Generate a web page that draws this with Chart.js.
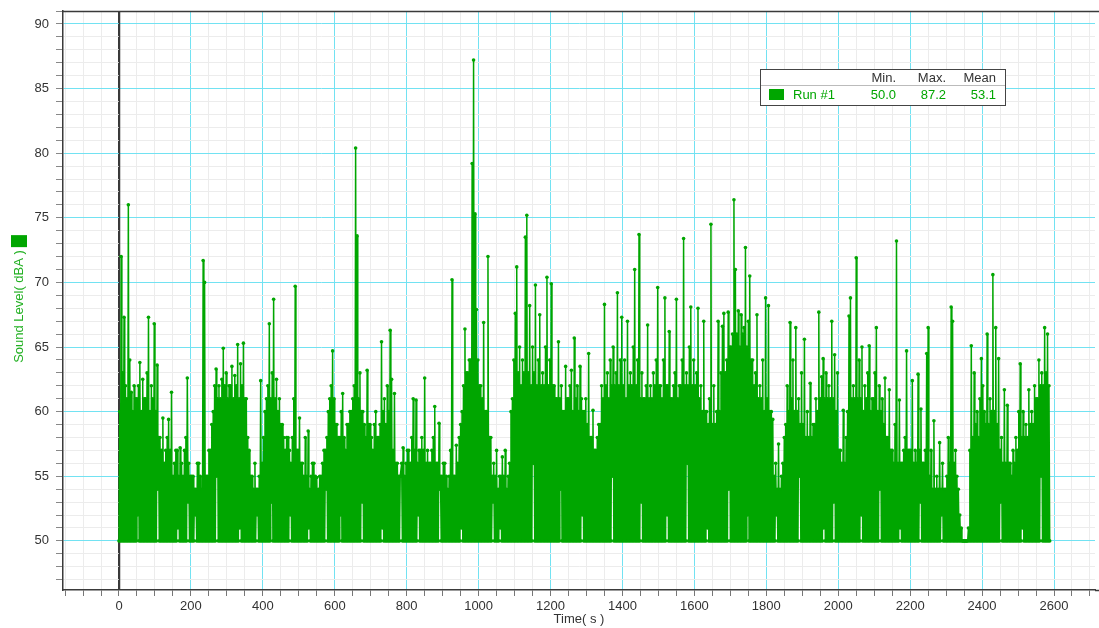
<!DOCTYPE html>
<html>
<head>
<meta charset="utf-8">
<title>Sound Level</title>
<script src="https://cdn.jsdelivr.net/npm/chart.js@4.4.0/dist/chart.umd.min.js"></script>
<style>
  html, body { margin: 0; padding: 0; background: #fff; }
  #wrap { width: 1099px; height: 628px; position: relative; }
</style>
</head>
<body>
<div id="wrap"><canvas id="levelChart"></canvas></div>
<script>
// readings every 2 s, one array per 200 s stretch
const sampleStep = 2;
const levels0000 = [
  50,60, 50,72.0, 50,63, 50,67.3, 50,62, 50,61, 50,76.0, 50,64, 50,61.5, 50,60,
  50,62, 50,61, 50,61, 52,62, 50,63.8, 50,60, 50,62.5, 50,61, 50,61, 50,63,
  50,67.3, 50,60, 50,62, 50,61, 50,66.8, 50,60, 50,63.6, 54,58, 50,58, 50,57,
  50,59.5, 50,56, 50,57, 50,58, 50,59.4, 50,57, 50,61.5, 50,55, 50,56, 50,57,
  50,57, 51,55, 50,57.2, 50,56, 50,55, 50,57, 50,58, 50,62.6, 53,56, 50,55];
const levels0200 = [
  50,55, 50,55, 50,54, 52,54, 50,56, 50,56, 50,55, 50,54, 50,71.7, 50,70,
  50,55, 50,55, 50,57, 50,57, 50,59, 50,60, 50,62, 50,63.3, 55,61, 50,62,
  50,61, 50,62.5, 50,64.9, 50,62, 50,63, 50,61, 50,62, 50,62, 50,63.5, 50,61,
  50,62.8, 50,62, 50,65.2, 50,61, 51,63.7, 50,62, 50,65.3, 50,61, 50,61, 50,58,
  50,57, 50,55, 50,55, 50,54, 50,56, 50,54, 52,54, 50,55, 50,62.4, 50,56];
const levels0400 = [
  50,58, 50,60, 50,61, 50,62, 50,66.8, 50,61, 53,63, 50,68.7, 50,61, 50,62.5,
  50,60, 50,61, 50,59, 50,59, 50,58, 50,57, 50,58, 50,58, 50,57, 52,56,
  50,58, 50,61, 50,69.7, 50,57, 50,57, 50,59.5, 50,56, 50,56, 50,55, 50,58,
  50,55, 50,58.5, 51,54, 50,55, 50,56, 50,56, 50,55, 50,54.9, 50,54, 50,55,
  50,55, 50,56, 50,57, 50,57, 54,58, 50,60, 50,61, 50,62, 50,64.7, 50,61];
const levels0600 = [
  50,59, 50,59, 50,58, 50,58, 52,60, 50,61.4, 50,58, 50,57, 50,59, 50,59,
  50,60, 50,60, 50,61, 50,62, 50,80.4, 50,73.6, 50,61, 50,63, 50,60, 53,60,
  50,59, 50,58, 50,63.2, 50,59, 50,59, 50,58, 50,57, 50,59, 50,60, 50,58,
  50,58, 50,59, 50,65.4, 51,60, 50,61, 50,59, 50,62, 50,60, 50,66.3, 50,62.5,
  50,57, 50,61.4, 50,56, 50,56, 50,55, 50,55, 55,56, 50,57.2, 50,55, 50,56];
const levels0800 = [
  50,57, 50,57, 50,56, 50,58, 50,61.0, 50,57, 50,60.9, 50,56, 52,57, 50,57,
  50,58, 50,57, 50,62.6, 50,56, 50,57, 50,56, 50,56, 50,57, 50,58, 50,60.4,
  50,56, 50,56, 50,59.1, 54,55, 50,55, 50,56, 50,56, 50,55, 50,54, 50,55,
  50,57, 50,70.2, 50,55, 50,55, 50,57.4, 50,56, 50,58, 50,59, 51,60, 50,62,
  50,66.4, 50,63, 50,63, 50,64, 50,64, 50,79.2, 50,87.2, 50,75.3, 50,67.9, 50,64];
const levels1000 = [
  50,62, 50,62, 50,61, 50,66.9, 50,60, 50,60, 50,72.0, 50,58, 50,58, 50,55,
  53,56, 50,55, 50,57, 50,54, 50,55, 51,55, 50,56.5, 50,55, 50,57, 50,54,
  50,55, 50,56, 50,60, 50,61, 50,64, 50,67.6, 50,71.2, 50,63, 50,65, 50,62,
  50,64, 50,63, 50,73.5, 50,75.2, 50,63, 50,68.2, 50,62, 50,65, 56,63, 50,69.8,
  50,62, 50,64, 50,67.5, 50,62, 50,63, 50,62, 50,65, 50,70.4, 50,62, 50,64];
const levels1200 = [
  50,69.9, 50,62, 50,62, 50,61, 50,61, 50,65.4, 50,61, 54,62, 50,60, 50,60,
  50,63.5, 50,61, 50,61, 50,62, 50,63.2, 50,60, 50,65.7, 50,61, 50,62, 50,60,
  50,63.5, 50,61, 52,60, 50,60, 50,61, 50,59, 50,64.5, 50,58, 50,58, 50,60.1,
  50,57, 50,57, 50,58, 50,59, 50,59, 50,62, 50,61, 50,68.3, 50,62, 50,63,
  50,61, 50,64, 50,62, 55,65, 50,62, 50,63, 50,69.2, 50,62, 50,64, 50,67.3];
const levels1400 = [
  50,62, 50,64, 50,61, 50,67.0, 50,62, 50,63, 50,62, 50,65, 50,71.0, 50,62,
  50,64, 50,73.7, 50,61, 53,63, 50,61, 50,61, 50,62, 50,66.7, 50,61, 50,62,
  50,61, 50,63, 50,62, 50,64, 50,69.6, 50,62, 50,62, 50,61, 50,64, 50,68.8,
  50,62, 52,62, 50,66.2, 50,61, 50,61, 50,62, 50,63, 50,68.7, 50,61, 50,62,
  50,62, 50,64, 50,73.4, 50,62, 50,63, 56,62, 50,65, 50,68.1, 50,62, 50,64];
const levels1600 = [
  50,62, 50,63, 50,68.0, 50,61, 50,62, 50,60, 50,67.0, 50,60, 50,60, 51,59,
  50,61, 50,74.5, 50,59, 50,62, 50,59, 50,60, 50,67.0, 50,60, 50,63, 50,66.6,
  50,67.6, 50,63, 50,64, 50,67.7, 54,65, 50,65, 50,66, 50,76.4, 50,71.0, 50,66,
  50,67.8, 50,65, 50,67.5, 50,66, 50,66.5, 50,72.7, 50,65, 52,67, 50,70.5, 50,64,
  50,64, 50,62, 50,63, 50,67.5, 50,61, 50,62, 50,61, 50,64, 50,60, 50,68.8];
const levels1800 = [
  50,61, 50,68.2, 50,60, 50,60, 50,59.4, 50,55, 50,56, 52,54, 50,57.5, 50,54,
  50,55, 50,56, 50,58, 50,59, 50,62, 50,60, 50,66.9, 50,61, 50,64, 50,60,
  50,66.5, 50,60, 50,61, 55,59, 50,63, 50,59, 50,65.6, 50,58, 50,60, 50,58,
  50,62.2, 50,58, 50,59, 50,59, 50,61, 50,60, 50,67.7, 50,61, 50,62.7, 50,64.1,
  51,61, 50,63, 50,61, 50,62, 50,61, 50,67.0, 50,61, 53,64.4, 50,60, 50,63];
const levels2000 = [
  50,57, 50,57, 50,56, 50,60.1, 50,56, 50,58, 50,60, 50,67.4, 50,68.8, 50,61,
  50,62, 50,61, 50,71.9, 50,61, 50,64, 50,61, 52,65, 50,60, 50,62, 50,61,
  50,63, 50,65.1, 50,60, 50,61, 50,61, 50,63, 50,66.5, 50,60, 50,62, 54,60,
  50,61, 50,59, 50,62.6, 50,58, 50,58, 50,61.7, 50,57, 50,57, 50,56, 50,59,
  50,73.2, 50,56, 50,60.9, 51,56, 50,56, 50,57, 50,58, 50,64.7, 50,57, 50,57];
const levels2200 = [
  50,57, 50,62.4, 50,56, 50,57, 50,56, 50,62.9, 50,57, 53,60.2, 50,56, 50,56,
  50,57, 50,64.5, 50,66.5, 50,55, 50,57, 50,54, 50,59.3, 50,54, 50,55, 50,54,
  50,57.6, 50,54, 52,56, 50,54, 50,54, 50,55, 50,58, 50,56, 50,68.1, 50,67.0,
  50,56, 50,57, 50,55, 50,54, 50,52, 50,51, 50,50, 50,50, 50,50, 50,50,
  50,51, 50,57, 50,65.1, 50,58, 50,63, 50,59, 50,60, 50,58, 50,61, 50,64.1];
const levels2400 = [
  50,62, 50,60, 50,59, 50,66.0, 50,59, 50,61, 50,60, 50,70.6, 50,60, 50,66.5,
  50,59, 50,64.1, 50,57, 53,58, 50,56, 50,61.7, 50,56, 50,60.5, 50,56, 50,56,
  50,55, 50,57, 50,56, 50,58, 50,57, 50,60, 50,63.7, 50,58, 51,60, 50,58,
  50,59, 50,58, 50,61.7, 50,59, 50,60, 50,59, 50,62, 50,61, 50,61, 50,64.0,
  50,62, 55,63, 50,62, 50,66.5, 50,63, 50,66.0, 50,62, 50];

const runBlocks = [
  [0, levels0000], [200, levels0200], [400, levels0400], [600, levels0600],
  [800, levels0800], [1000, levels1000], [1200, levels1200], [1400, levels1400],
  [1600, levels1600], [1800, levels1800], [2000, levels2000], [2200, levels2200],
  [2400, levels2400]
];

const runName = 'Run #1';
const statHeads = ['Min.', 'Max.', 'Mean'];
const statValues = ['50.0', '87.2', '53.1'];
const yTitle = 'Sound Level( dBA )';

const xTickStep = 50;
const xLabelStep = 200;
const yTickStep = 1;
const yLabelStep = 5;

const green = '#00a600';
const cyan = '#72e2f2';
const minorGrid = '#ececec';
const axisDark = '#3a3a3a';
const fontFamily = "'Liberation Sans', Arial, sans-serif";

const points = runBlocks.flatMap(([start, vals]) =>
  vals.map((v, i) => ({ x: start + i * sampleStep, y: v })));

// zero line over the grid, top frame line, y title with its key, stats box
const extras = {
  id: 'extras',
  beforeDatasetsDraw(chart) {
    const c = chart.ctx;
    const a = chart.chartArea;
    const x0 = Math.round(chart.scales.x.getPixelForValue(0)) + 0.5;
    c.save();
    c.strokeStyle = axisDark;
    c.lineWidth = 1.5;
    c.beginPath();
    c.moveTo(x0, a.top);
    c.lineTo(x0, a.bottom);
    c.stroke();
    c.restore();
  },
  afterDraw(chart) {
    const c = chart.ctx;
    const a = chart.chartArea;
    c.save();
    c.strokeStyle = axisDark;
    c.lineWidth = 1.5;
    c.beginPath();
    c.moveTo(a.left, a.top + 0.5);
    c.lineTo(chart.width, a.top + 0.5);
    c.moveTo(a.right, a.bottom + 0.5);
    c.lineTo(chart.width, a.bottom + 0.5);
    c.stroke();

    c.font = '13px ' + fontFamily;
    const tw = c.measureText(yTitle).width;
    const yMid = (a.top + a.bottom) / 2 + 6;
    c.save();
    c.translate(19, yMid);
    c.rotate(-Math.PI / 2);
    c.textAlign = 'center';
    c.textBaseline = 'middle';
    c.fillStyle = '#22b022';
    c.fillText(yTitle, 0, 0);
    c.restore();
    c.fillStyle = green;
    c.fillRect(11, yMid - tw / 2 - 15, 16, 12);

    // stats box
    const bx = 760, by = 69, bw = 245, bh = 36;
    c.fillStyle = '#fff';
    c.fillRect(bx, by, bw, bh);
    c.strokeStyle = '#444';
    c.lineWidth = 1;
    c.strokeRect(bx + 0.5, by + 0.5, bw, bh);
    c.strokeStyle = '#bbb';
    c.beginPath();
    c.moveTo(bx + 1, by + 16.5);
    c.lineTo(bx + bw, by + 16.5);
    c.stroke();

    const cols = [896, 946, 996];
    c.textBaseline = 'middle';
    c.textAlign = 'right';
    c.fillStyle = '#333';
    statHeads.forEach((h, i) => c.fillText(h, cols[i], by + 9));
    c.fillStyle = green;
    statValues.forEach((v, i) => c.fillText(v, cols[i], by + 26));
    c.textAlign = 'left';
    c.fillText(runName, 793, by + 26);
    c.fillRect(769, by + 20, 15, 11);
    c.restore();
  }
};

new Chart(document.getElementById('levelChart'), {
  type: 'line',
  data: {
    datasets: [{
      label: runName,
      data: points,
      borderColor: green,
      backgroundColor: green,
      borderWidth: 1.5,
      pointRadius: 1.8,
      pointBorderWidth: 0,
      pointBackgroundColor: green,
      tension: 0,
      fill: false
    }]
  },
  options: {
    responsive: true,
    maintainAspectRatio: false,
    animation: false,
    layout: { padding: { top: 11, right: 0, bottom: 0, left: 0 } },
    plugins: { legend: { display: false }, tooltip: { enabled: false } },
    scales: {
      x: {
        type: 'linear',
        min: -155.7,
        max: 2714,
        afterBuildTicks(scale) {
          const t = [];
          for (let v = -150; v <= 2700; v += xTickStep) t.push({ value: v });
          scale.ticks = t;
        },
        afterFit(scale) {
          scale.height = 38;
          scale.paddingLeft = 0;
          scale.paddingRight = 0;
        },
        ticks: {
          autoSkip: false,
          maxRotation: 0,
          padding: 3,
          color: '#333',
          font: { family: fontFamily, size: 13 },
          callback: v => (v % xLabelStep === 0 ? String(v) : '')
        },
        grid: {
          color: ctx => {
            const v = ctx.tick && ctx.tick.value;
            if (v === 0) return axisDark;
            return v % xLabelStep === 0 ? cyan : minorGrid;
          },
          tickColor: '#777',
          tickLength: 6
        },
        border: { color: axisDark, width: 1.5 },
        title: {
          display: true,
          text: 'Time( s )',
          color: '#333',
          font: { family: fontFamily, size: 13 },
          padding: { top: 0, bottom: 1 }
        }
      },
      y: {
        type: 'linear',
        min: 46.2,
        max: 91,
        afterBuildTicks(scale) {
          const t = [];
          for (let v = 47; v <= 91; v += yTickStep) t.push({ value: v });
          scale.ticks = t;
        },
        afterFit(scale) {
          scale.width = 63;
          scale.paddingTop = 0;
          scale.paddingBottom = 0;
        },
        ticks: {
          autoSkip: false,
          padding: 7,
          color: '#333',
          font: { family: fontFamily, size: 13 },
          callback: v => (v % yLabelStep === 0 ? String(v) : '')
        },
        grid: {
          color: ctx => (ctx.tick && ctx.tick.value % yLabelStep === 0 ? cyan : minorGrid),
          tickColor: '#888',
          tickLength: 7
        },
        border: { color: axisDark, width: 1.5 }
      }
    }
  },
  plugins: [extras]
});
</script>
</body>
</html>
